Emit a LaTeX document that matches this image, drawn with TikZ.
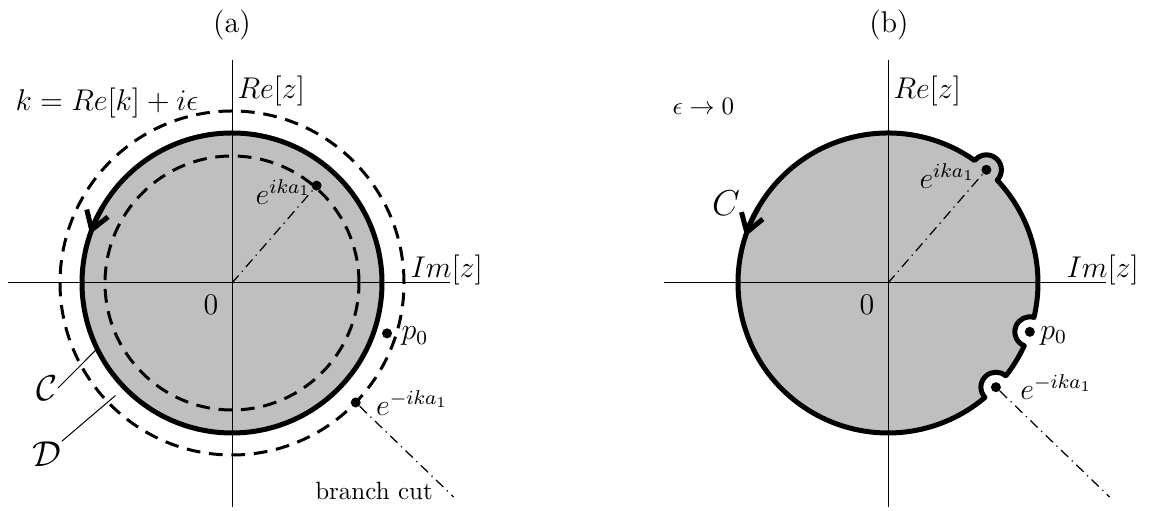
\documentclass[tikz,border=0pt]{standalone}
\usepackage{amsmath}
\usepackage{tikz}
\usetikzlibrary{arrows.meta,calc,positioning}

\begin{document}
\begin{tikzpicture}[
    x=0.4pt, y=0.4pt,
    axis/.style={line width=0.4pt, draw=black},
    contour/.style={line width=2pt, draw=black, line join=round},
    guide/.style={line width=1.2pt, draw=black, dash pattern=on 5.5pt off 3.5pt},
    cut/.style={line width=0.5pt, draw=black, dash pattern=on 4pt off 2pt on 0.5pt off 2pt},
    pole/.style={circle, fill=black, inner sep=0pt, minimum size=4pt},
    lbl/.style={font=\large, inner sep=0pt},
    big/.style={font=\Large, inner sep=0pt},
    arr/.style={-{Straight Barb[length=7pt,width=9pt]}, line width=2pt}
  ]
  \useasboundingbox (0,0) rectangle (1153,511);

  % Centres of the two panels
  \coordinate (Oa) at (232,228);
  \coordinate (Ob) at (888,228);

  % (a): shaded disc
  \fill[black!25] (Oa) circle[radius=150];

  % (b): indented contour
  \pgfmathsetmacro\dl{2*asin(15/300)}
  \filldraw[contour, fill=black!25] ($(Ob)+({-44+\dl}:150)$)
    arc[start angle={-44+\dl}, end angle={-19-\dl}, radius=150]
    arc[start angle={251-\dl/2}, end angle={71+\dl/2}, radius=15]
    arc[start angle={-19+\dl}, end angle={49-\dl}, radius=150]
    arc[start angle={-41-\dl/2}, end angle={139+\dl/2}, radius=15]
    arc[start angle={49+\dl}, end angle={316-\dl}, radius=150]
    arc[start angle={226-\dl/2}, end angle={46+\dl/2}, radius=15]
    -- cycle;

  % Axes
  \foreach \o in {Oa,Ob}{
    \draw[axis] ($(\o)+(-224,0)$) -- ($(\o)+(218,0)$);
    \draw[axis] ($(\o)+(0,-224)$) -- ($(\o)+(0,223)$);
    \node[lbl, anchor=base west] (re-\o) at ($(\o)+(5,184)$) {$Re[z]$};
    \node[lbl, anchor=base west] (im-\o) at ($(\o)+(178,5)$) {$Im[z]$};
    \node[lbl] (zero-\o) at ($(\o)+(-21,-22)$) {$0$};
  }

  % Panel tags
  \node[font=\large] (tagA) at (232,486) {(a)};
  \node[font=\large] (tagB) at (889,486) {(b)};

  % (a): circles C and D
  \draw[guide] (Oa) circle[radius=127];
  \draw[guide] (Oa) circle[radius=172];
  \draw[contour] (Oa) circle[radius=150];
  \draw[arr] ($(Oa)+(150:150)$) arc[start angle=150, end angle=161, radius=150];

  \node[pole] (ea) at ($(Oa)+(49:129)$) {};
  \node[pole] (pa) at ($(Oa)+(-18:163)$) {};
  \node[pole] (ma) at ($(Oa)+(-44:172)$) {};
  \coordinate (cuta) at ($(Oa)+(-44:308)$);
  \draw[cut] (Oa) -- (ea);
  \draw[cut] (ma) -- (cuta);

  \node[lbl, anchor=east] (ela) at ($(ea)+(-5,-6)$) {$e^{ika_1}$};
  \node[lbl, anchor=west] (pla) at ($(pa)+(14,-3)$) {$p_0$};
  \node[lbl, anchor=west] (mla) at ($(ma)+(20,-1)$) {$e^{-ika_1}$};
  \node[inner sep=0pt] (cutla) at ($(Oa)+(142,-208)$) {branch cut};
  \node[anchor=west, inner sep=0pt, font=\large] (kdef) at (15,408) {$k = Re[k] + i\epsilon$};

  \node[big] (Ca) at ($(Oa)+(-185,-105)$) {$\mathcal{C}$};
  \node[big] (Da) at ($(Oa)+(-185,-171)$) {$\mathcal{D}$};
  \coordinate (onC) at ($(Oa)+(206:150)$);
  \coordinate (onD) at ($(Oa)+(224:162)$);
  \draw[axis] (Ca.east) -- (onC);
  \draw[axis] (Da.north east) -- (onD);

  % (b): poles on the contour
  \draw[arr] ($(Ob)+(150:150)$) arc[start angle=150, end angle=162, radius=150];

  \node[pole] (eb) at ($(Ob)+(49:150)$) {};
  \node[pole] (pb) at ($(Ob)+(-19:150)$) {};
  \node[pole] (mb) at ($(Ob)+(-44:150)$) {};
  \coordinate (cutb) at ($(Ob)+(-44:308)$);
  \draw[cut] (Ob) -- (eb);
  \draw[cut] (mb) -- (cutb);

  \node[lbl, anchor=east] (elb) at ($(eb)+(-11,-6)$) {$e^{ika_1}$};
  \node[lbl, anchor=west] (plb) at ($(pb)+(10,-4)$) {$p_0$};
  \node[lbl, anchor=west] (mlb) at ($(mb)+(24,0)$) {$e^{-ika_1}$};
  \node[anchor=west, inner sep=0pt] (lim) at (672,405) {$\epsilon \to 0$};
  \node[big] (Cb) at ($(Ob)+(-162,80)$) {$C$};

\end{tikzpicture}
\end{document}
